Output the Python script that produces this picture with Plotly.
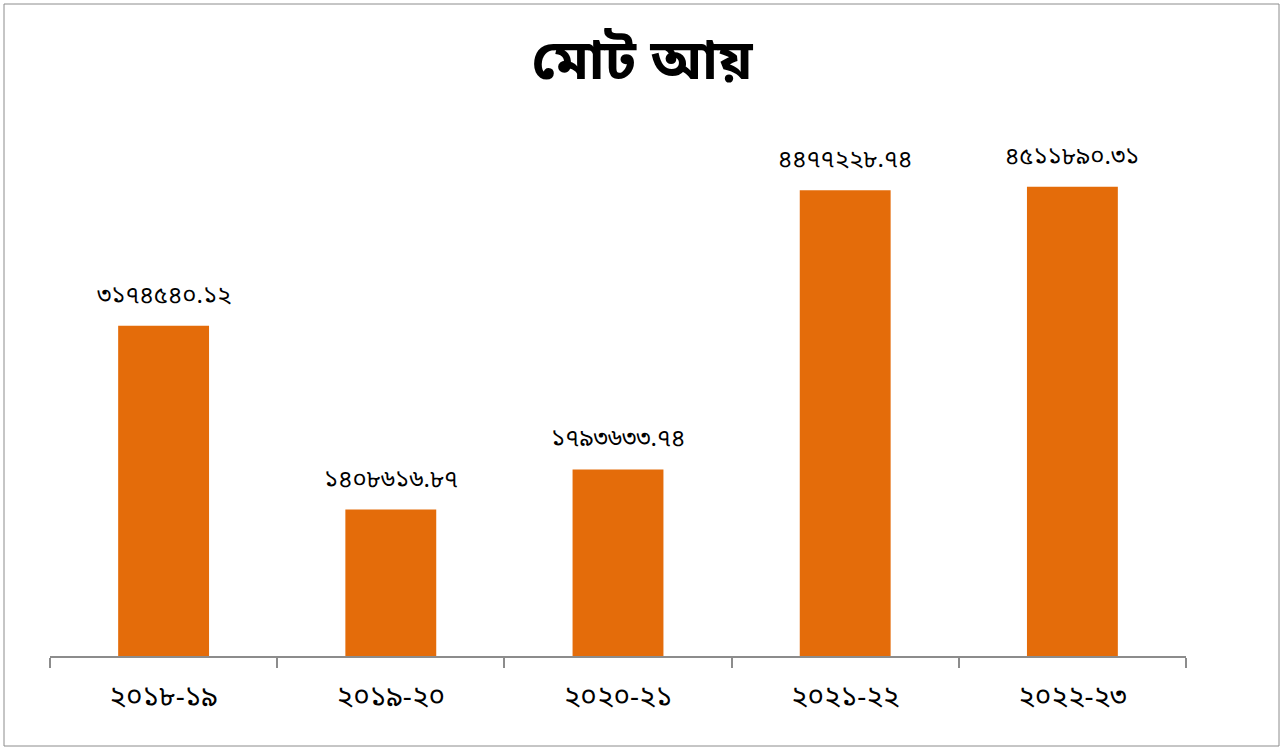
import plotly.graph_objects as go

categories = ["২০১৮-১৯", "২০১৯-২০", "২০২০-২১", "২০২১-২২", "২০২২-২৩"]
values = [3174540.12, 1408616.87, 1793633.74, 4477228.74, 4511890.31]
value_labels = ["৩১৭৪৫৪০.১২", "১৪০৮৬১৬.৮৭", "১৭৯৩৬৩৩.৭৪", "৪৪৭৭২২৮.৭৪", "৪৫১১৮৯০.৩১"]
title_text = "মোট আয়"

W, H = 1284, 749
ml, mr, mt, mb = 50, 98, 136, 93
pw, ph = W - ml - mr, H - mt - mb

FONT = "Noto Sans Bengali, Lohit Bengali, Vrinda, Noto Sans, sans-serif"

fig = go.Figure(go.Bar(x=categories, y=values, marker_color="#E46C0A",
                       marker_line_width=0, hoverinfo="skip"))

for c, v, t in zip(categories, values, value_labels):
    fig.add_annotation(x=c, y=v, text=t, showarrow=False, yanchor="middle",
                       yshift=29, font=dict(size=24, color="black", family=FONT))

# outer chart border
fig.add_shape(type="rect", xref="paper", yref="paper",
              x0=(4 - ml) / pw, x1=(1279 - ml) / pw,
              y0=(H - mb - 746) / ph, y1=(H - mb - 4) / ph,
              line=dict(color="#8c8c8c", width=1), fillcolor="rgba(0,0,0,0)", layer="below")

fig.update_layout(
    width=W, height=H,
    margin=dict(l=ml, r=mr, t=mt, b=mb),
    paper_bgcolor="white", plot_bgcolor="white",
    bargap=0.6,
    showlegend=False,
    title=dict(text="<b>" + title_text + "</b>", x=0.5, xref="container", xanchor="center",
               y=1 - 59 / H, yanchor="middle",
               font=dict(size=56, color="black", family=FONT)),
    xaxis=dict(showline=True, linecolor="#8c8c8c", linewidth=2, ticks="outside",
               tickson="boundaries", ticklen=10, tickcolor="#8c8c8c", tickwidth=2,
               tickfont=dict(size=28, color="black", family=FONT), showgrid=False,
               fixedrange=True),
    yaxis=dict(range=[0, 5000000], visible=False, showgrid=False, fixedrange=True),
)
fig.update_xaxes(ticklabelstandoff=14)

fig.write_html("out.html", config={"displayModeBar": False},
               post_script="document.body.style.margin='0';")
